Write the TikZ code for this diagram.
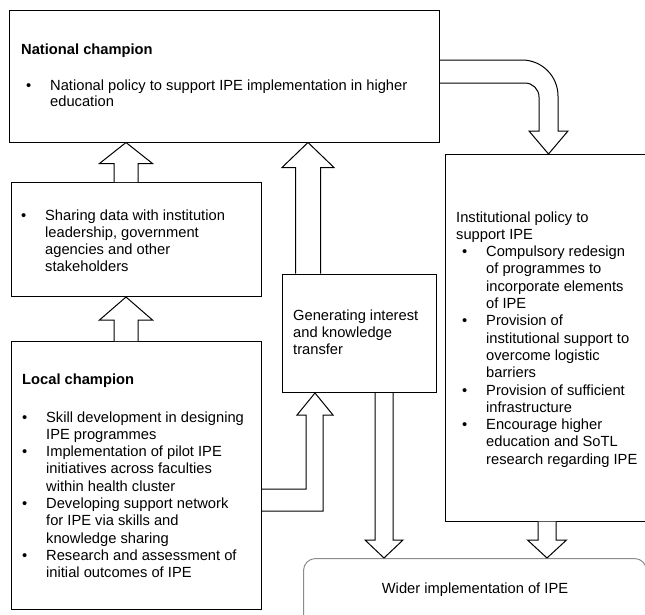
\documentclass[tikz,border=0pt]{standalone}
\usepackage{fontspec}
\setmainfont{Liberation Sans}
\usetikzlibrary{calc}

% bullet hung to the left of the item text
\newcommand\bul{\llap{\textbullet\hspace{19pt}}}
% hollow block arrow: #1 tail, #2 tip, #3 shaft half-width, #4 head half-width, #5 head length
\newcommand\blockarrow[5]{%
  \draw[blk] let \p1=(#1), \p2=(#2), \p3=($(#2)!#5!(#1)$) in
    (\x1-#3,\y1) -- (\x1-#3,\y3) -- (\x1-#4,\y3) -- (\x2,\y2)
    -- (\x1+#4,\y3) -- (\x1+#3,\y3) -- (\x1+#3,\y1);}

\tikzset{
  box/.style={draw, line width=1pt, inner sep=0pt, anchor=north west},
  softbox/.style={box, draw=black!45, rounded corners=12pt},
  blk/.style={draw, line width=1pt, fill=white, line join=miter},
  txt/.style={anchor=base west, inner sep=0pt, font=\fontsize{14.7}{17.3}\selectfont},
}

\begin{document}
\begin{tikzpicture}[x=1pt, y=-1pt]
\useasboundingbox (0,0) rectangle (645,614);
\fill[white] (0,0) rectangle (645,614);
\clip (0,0) rectangle (645,614);

% boxes
\node[box, minimum width=430.5pt, minimum height=132pt] (nat) at (8.5,9.5) {};
\node[box, minimum width=250pt, minimum height=114pt] (share) at (11,182) {};
\node[box, minimum width=250pt, minimum height=268pt] (loc) at (11,341) {};
\node[box, minimum width=154pt, minimum height=118.5pt] (mid) at (282,273.5) {};
\node[box, minimum width=210pt, minimum height=366.5pt] (inst) at (444.5,154) {};
\node[softbox, minimum width=343pt, minimum height=70pt] (wide) at (303,558) {};

% arrow end points
\coordinate (a1s) at (126,0 |- loc.north);
\coordinate (a1t) at (126,0 |- share.south);
\coordinate (a2s) at (126,0 |- share.north);
\coordinate (a2t) at (126,0 |- nat.south);
\coordinate (a3s) at (308,0 |- mid.north);
\coordinate (a3t) at (308,0 |- nat.south);
\coordinate (a5s) at (384,0 |- mid.south);
\coordinate (a5t) at (384,0 |- wide.north);
\coordinate (a6s) at (547,0 |- inst.south);
\coordinate (a6t) at (547,0 |- wide.north);
\coordinate (a4t) at (315,0 |- mid.south);
\coordinate (a7t) at (548.5,0 |- inst.north);

% straight block arrows
\blockarrow{a1s}{a1t}{12pt}{26.5pt}{23pt}
\blockarrow{a2s}{a2t}{12pt}{26.5pt}{21pt}
\blockarrow{a3s}{a3t}{12.5pt}{26pt}{25pt}
\blockarrow{a5s}{a5t}{9pt}{19pt}{18pt}
\blockarrow{a6s}{a6t}{9pt}{19.5pt}{18pt}

% elbow arrow from the local champion to the middle box
\draw[blk] (loc.east |- 0,489) -- (306,489) -- (306,415) -- (297,415) -- (a4t)
  -- (333,415) -- (323,415) -- (323,511) -- (loc.east |- 0,511);

% curved arrow from the national champion to the institutional box
\draw[blk] (nat.east |- 0,60) -- (522,60) .. controls (541.9,60) and (558,76.1) .. (558,96)
  -- (558,131) -- (568,131) -- (a7t) -- (529,131) -- (539,131) -- (539,97)
  .. controls (539,89.3) and (532.7,83) .. (525,83) -- (nat.east |- 0,83);

% texts
\node[txt] (natH) at (21,54) {\bfseries National champion};
\node[txt] (natB) at (50,90.5) {\baselineskip=16pt\vtop{\hbox{\bul National policy to support IPE implementation in higher}\hbox{education}}};

\node[txt] (shareB) at (45,220) {\vtop{\hbox{\bul Sharing data with institution}\hbox{leadership, government}\hbox{agencies and other}\hbox{stakeholders}}};

\node[txt] (locH) at (22,384.5) {\bfseries Local champion};
\node[txt] (locB) at (46,422) {\vtop{%
  \hbox{\bul Skill development in designing}\hbox{IPE programmes}%
  \hbox{\bul Implementation of pilot IPE}\hbox{initiatives across faculties}\hbox{within health cluster}%
  \hbox{\bul Developing support network}\hbox{for IPE via skills and}\hbox{knowledge sharing}%
  \hbox{\bul Research and assessment of}\hbox{initial outcomes of IPE}}};

\node[txt] (midT) at (293,320) {\vtop{\hbox{Generating interest}\hbox{and knowledge}\hbox{transfer}}};

\node[txt] (instT) at (456,222) {\vtop{%
  \hbox{Institutional policy to}\hbox{support IPE}%
  \hbox{\hspace{30pt}\bul Compulsory redesign}\hbox{\hspace{30pt}of programmes to}%
  \hbox{\hspace{30pt}incorporate elements}\hbox{\hspace{30pt}of IPE}%
  \hbox{\hspace{30pt}\bul Provision of}\hbox{\hspace{30pt}institutional support to}%
  \hbox{\hspace{30pt}overcome logistic}\hbox{\hspace{30pt}barriers}%
  \hbox{\hspace{30pt}\bul Provision of sufficient}\hbox{\hspace{30pt}infrastructure}%
  \hbox{\hspace{30pt}\bul Encourage higher}\hbox{\hspace{30pt}education and SoTL}%
  \hbox{\hspace{30pt}research regarding IPE}}};

\node[txt, anchor=base] (wideT) at (475,593) {Wider implementation of IPE};
\end{tikzpicture}
\end{document}
